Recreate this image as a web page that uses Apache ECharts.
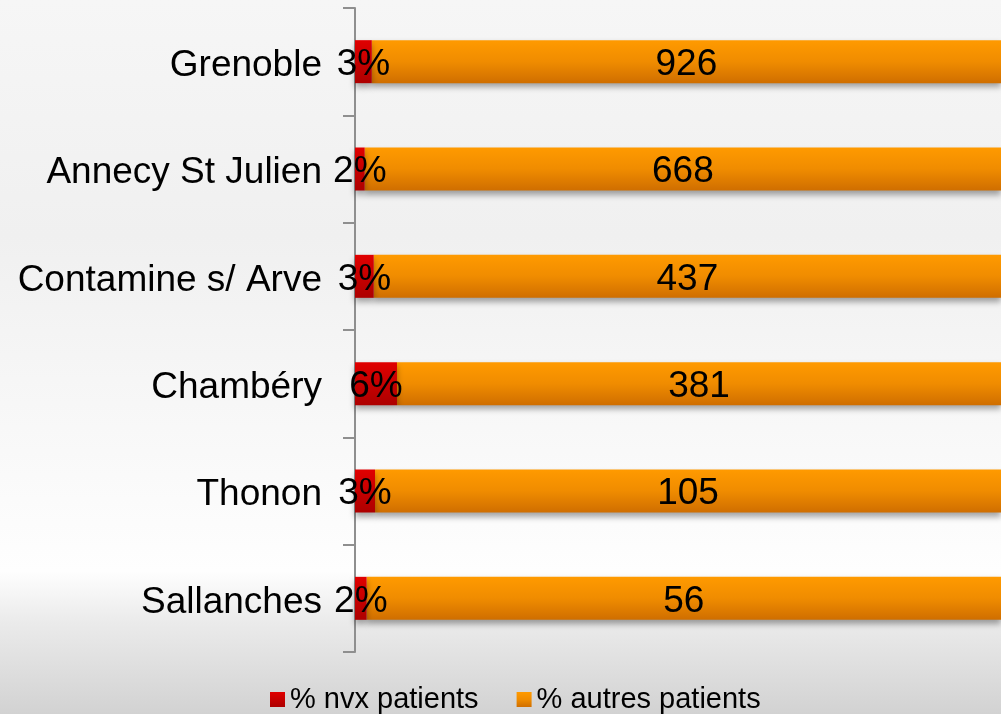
<!DOCTYPE html>
<html>
<head>
<meta charset="utf-8">
<script src="https://cdn.jsdelivr.net/npm/echarts@6/dist/echarts.min.js"></script>
<style>
  html, body { margin: 0; padding: 0; }
  #chart { width: 1001px; height: 714px; }
</style>
</head>
<body>
<div id="chart"></div>
<script>
// sites, top to bottom
const sites = ['Grenoble', 'Annecy St Julien', 'Contamine s/ Arve', 'Chambéry', 'Thonon', 'Sallanches']
// % nouveaux patients (bar length) and the printed labels
const nvxPct = [2.6, 1.5, 2.9, 6.5, 3.1, 1.8]
const nvxLabels = ['3%', '2%', '3%', '6%', '3%', '2%']
// % autres patients and the count printed on the bar
const autresPct = [97.4, 98.5, 97.1, 93.5, 96.9, 98.2]
const autresCounts = [926, 668, 437, 381, 105, 56]

const fontFamily = '"Liberation Sans", Arial, sans-serif'
const axisLineColor = '#8f8f8f'

const barShadow = {
  shadowColor: 'rgba(0, 0, 0, 0.35)',
  shadowBlur: 6,
  shadowOffsetY: 4
}

const chart = echarts.init(document.getElementById('chart'))
chart.setOption({
  animation: false,
  backgroundColor: new echarts.graphic.LinearGradient(0, 0, 0, 1, [
    { offset: 0, color: '#f6f6f6' },
    { offset: 0.33, color: '#f0f0f0' },
    { offset: 0.7, color: '#fbfbfb' },
    { offset: 0.8, color: '#fefefe' },
    { offset: 0.87, color: '#ebebeb' },
    { offset: 1, color: '#d2d2d2' }
  ]),
  grid: {
    left: 355,
    right: -11,
    top: 8,
    bottom: 62
  },
  legend: {
    data: ['% nvx patients', '% autres patients'],
    left: 265,
    top: 680,
    icon: 'rect',
    itemWidth: 15,
    itemHeight: 15,
    itemGap: 38,
    textStyle: {
      fontSize: 29,
      color: '#000',
      fontFamily
    }
  },
  xAxis: {
    type: 'value',
    min: 0,
    max: 100,
    show: false
  },
  yAxis: {
    type: 'category',
    inverse: true,
    data: sites,
    axisLine: {
      show: true,
      lineStyle: { color: axisLineColor, width: 2 }
    },
    axisTick: {
      show: true,
      length: 12,
      lineStyle: { color: axisLineColor, width: 2 }
    },
    axisLabel: {
      margin: 33,
      formatter: v => '{a|' + v + '}',
      rich: {
        a: {
          fontSize: 37,
          color: '#000',
          fontFamily,
          padding: [8, 0, 0, 0]
        }
      }
    },
    splitLine: { show: false }
  },
  series: [
    {
      name: '% nvx patients',
      type: 'bar',
      stack: 'total',
      barWidth: 43,
      data: nvxPct,
      itemStyle: Object.assign({
        color: new echarts.graphic.LinearGradient(0, 0, 0, 1, [
          { offset: 0, color: '#e00000' },
          { offset: 1, color: '#ad0000' }
        ])
      }, barShadow),
      label: {
        show: true,
        position: 'inside',
        offset: [0, 3],
        fontSize: 37,
        color: '#000',
        fontFamily,
        formatter: p => nvxLabels[p.dataIndex]
      },
      z: 3
    },
    {
      name: '% autres patients',
      type: 'bar',
      stack: 'total',
      barWidth: 43,
      data: autresPct,
      itemStyle: Object.assign({
        color: new echarts.graphic.LinearGradient(0, 0, 0, 1, [
          { offset: 0, color: '#ff9a00' },
          { offset: 0.5, color: '#f08c00' },
          { offset: 1, color: '#cf6e00' }
        ])
      }, barShadow),
      label: {
        show: true,
        position: 'inside',
        offset: [0, 3],
        fontSize: 37,
        color: '#000',
        fontFamily,
        formatter: p => String(autresCounts[p.dataIndex])
      },
      z: 2
    }
  ]
})
</script>
</body>
</html>
